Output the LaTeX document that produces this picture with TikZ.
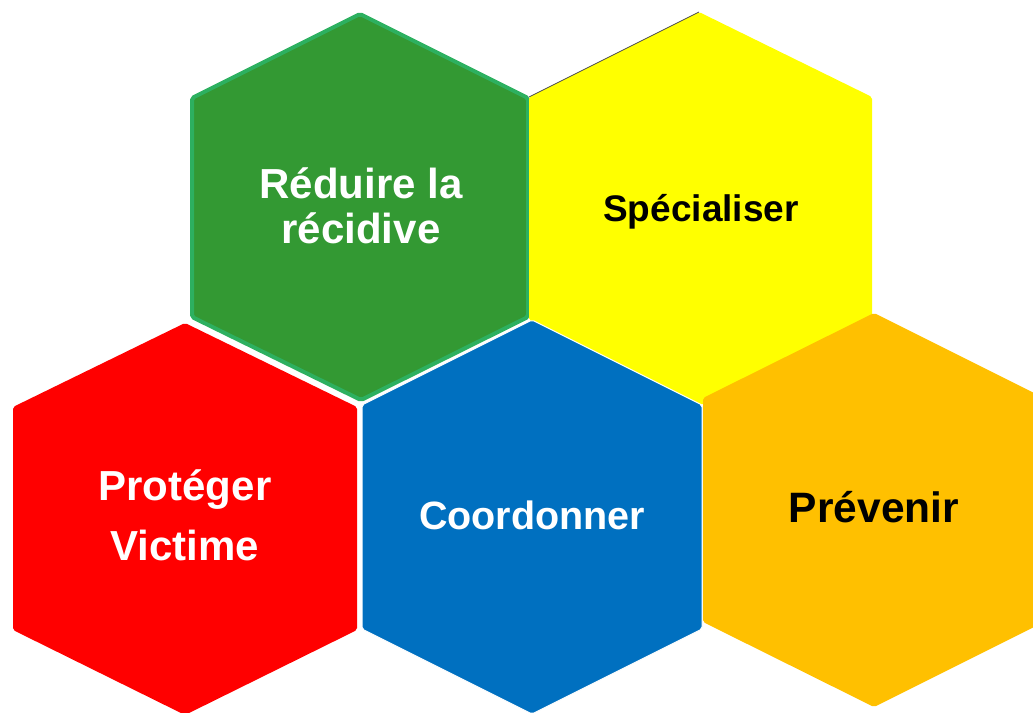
\documentclass[tikz,border=0pt]{standalone}
\usepackage{fontspec}
\setmainfont{Liberation Sans}
\definecolor{hgreen}{HTML}{339933}
\definecolor{hgreenb}{HTML}{2DB060}
\definecolor{hyellow}{HTML}{FFFF00}
\definecolor{hred}{HTML}{FF0000}
\definecolor{hblue}{HTML}{0070C0}
\definecolor{horange}{HTML}{FFC000}
\begin{document}
\begin{tikzpicture}[x=1pt,y=-1pt,
  hexa/.style={rounded corners=2pt},
  lbl/.style={font=\bfseries, align=center, inner sep=0pt}]
\useasboundingbox (0,0) rectangle (1033,712);
\clip (0,0) rectangle (1033,712);
% green
\filldraw[hexa, fill=hgreen, draw=hgreenb, line width=4pt]
  (360,14) -- (528,98) -- (528,317) -- (361,400) -- (192,317) -- (192,98) -- cycle;
% yellow
\fill[hexa, hyellow]
  (699,12) -- (872,97) -- (872,320) -- (701,405) -- (529,320) -- (529,97) -- cycle;
\draw[gray!60!black, line width=0.7pt] (529,97) -- (699,12);
% orange
\fill[hexa, horange]
  (874,313) -- (1044,398) -- (1044,622) -- (874,707) -- (703,622) -- (703,398) -- cycle;
% blue
\filldraw[hexa, fill=hblue, draw=white, line width=1pt]
  (532,320) -- (702,405) -- (702,629) -- (532,714) -- (362,629) -- (362,405) -- cycle;
% red
\fill[hexa, hred]
  (185,323) -- (357,407) -- (357,630) -- (185,715) -- (13,630) -- (13,407) -- cycle;
% labels
\node[lbl, text=white, font=\bfseries\fontsize{42}{45}\selectfont, anchor=center]
  (reduire) at (361,206) {Réduire la\\récidive};
\node[lbl, text=black, font=\bfseries\fontsize{37}{40}\selectfont, anchor=base]
  (specialiser) at (701,221) {Spécialiser};
\node[lbl, text=white, font=\bfseries\fontsize{42}{60}\selectfont, anchor=center]
  (proteger) at (185,515) {Protéger\\Victime};
\node[lbl, text=white, font=\bfseries\fontsize{39.5}{42}\selectfont, anchor=base]
  (coordonner) at (532,529) {Coordonner};
\node[lbl, text=black, font=\bfseries\fontsize{42.5}{46}\selectfont, anchor=base]
  (prevenir) at (874,522) {Prévenir};
\end{tikzpicture}
\end{document}
